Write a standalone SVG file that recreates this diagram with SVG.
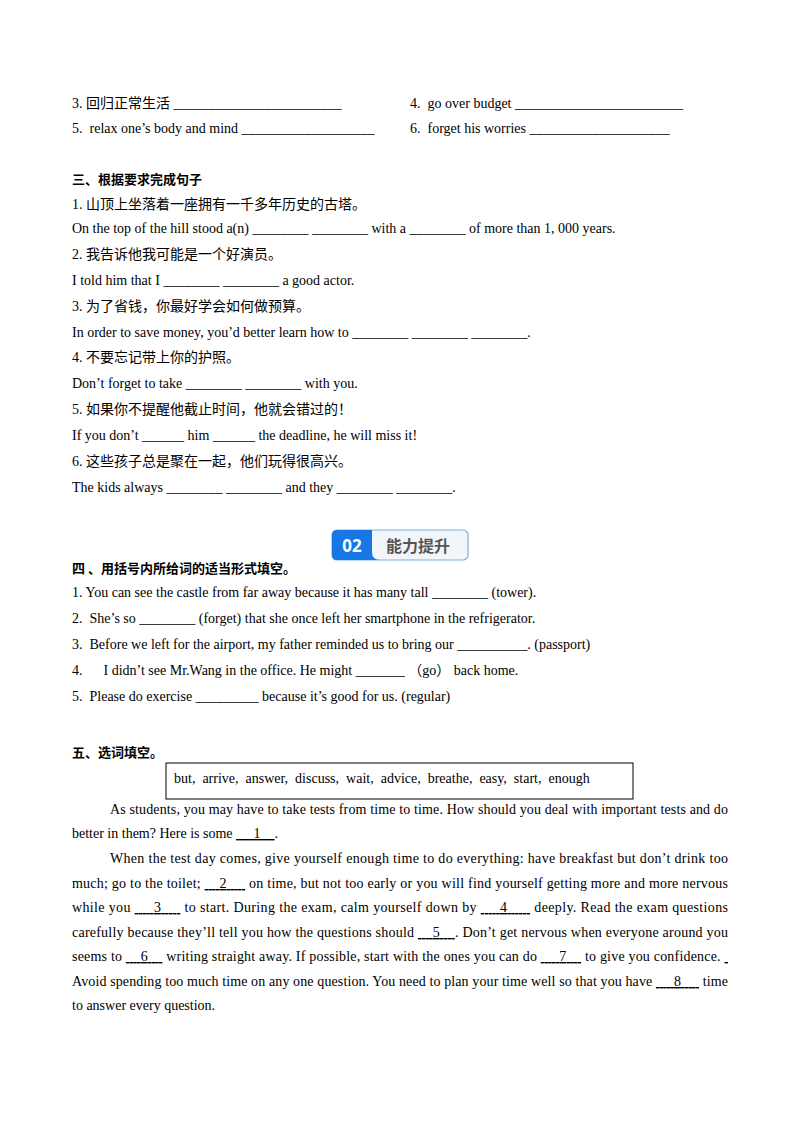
<svg xmlns="http://www.w3.org/2000/svg" width="800" height="1132" viewBox="0 0 800 1132" xml:space="preserve">
<style>
text{font-family:"Liberation Serif","Noto Sans CJK SC",serif;font-size:14px;fill:#000;white-space:pre}
.b{font-weight:bold;font-family:"Noto Sans CJK SC",sans-serif;font-size:13px}
.u{text-decoration:underline}
</style>
<rect width="800" height="1132" fill="#fff"/>
<text x="72" y="108">3. 回归正常生活 ________________________</text>
<text x="410" y="108">4.  go over budget ________________________</text>
<text x="72" y="133">5.  relax one’s body and mind ___________________</text>
<text x="410" y="133">6.  forget his worries ____________________</text>
<text class="b" x="72" y="184">三、根据要求完成句子</text>
<text x="72" y="209">1. 山顶上坐落着一座拥有一千多年历史的古塔。</text>
<text x="72" y="233">On the top of the hill stood a(n) ________ ________ with a ________ of more than 1, 000 years.</text>
<text x="72" y="259">2. 我告诉他我可能是一个好演员。</text>
<text x="72" y="285">I told him that I ________ ________ a good actor.</text>
<text x="72" y="311">3. 为了省钱，你最好学会如何做预算。</text>
<text x="72" y="337">In order to save money, you’d better learn how to ________ ________ ________.</text>
<text x="72" y="362">4. 不要忘记带上你的护照。</text>
<text x="72" y="388">Don’t forget to take ________ ________ with you.</text>
<text x="72" y="414">5. 如果你不提醒他截止时间，他就会错过的！</text>
<text x="72" y="440">If you don’t ______ him ______ the deadline, he will miss it!</text>
<text x="72" y="466">6. 这些孩子总是聚在一起，他们玩得很高兴。</text>
<text x="72" y="492">The kids always ________ ________ and they ________ ________.</text>
<g id="badge">
<rect x="332" y="530" width="136" height="30" rx="5" fill="#f2f6fb" stroke="#7aaee8" stroke-width="1.2"/>
<path d="M337 530 H372 V552 Q372 560 380 560 H337 Q332 560 332 555 V535 Q332 530 337 530 Z" fill="#1677e5"/>
<text x="352" y="552" text-anchor="middle" style="font-family:'Noto Sans',sans-serif;font-weight:bold;font-size:17px;fill:#fff">02</text>
<text x="418" y="552" text-anchor="middle" style="font-family:'Noto Sans CJK SC',sans-serif;font-weight:bold;font-size:16px;fill:#555">能力提升</text>
</g>
<text class="b" x="72" y="573">四 、用括号内所给词的适当形式填空。</text>
<text x="72" y="597">1. You can see the castle from far away because it has many tall ________ (tower).</text>
<text x="72" y="623">2.  She’s so ________ (forget) that she once left her smartphone in the refrigerator.</text>
<text x="72" y="649">3.  Before we left for the airport, my father reminded us to bring our __________. (passport)</text>
<text x="72" y="675">4.      I didn’t see Mr.Wang in the office. He might _______ （go） back home.</text>
<text x="72" y="701">5.  Please do exercise _________ because it’s good for us. (regular)</text>
<text class="b" x="72" y="757">五、选词填空。</text>
<rect x="166" y="763" width="467" height="36" fill="none" stroke="#000" stroke-width="1"/>
<text x="174" y="783">but,  arrive,  answer,  discuss,  wait,  advice,  breathe,  easy,  start,  enough</text>
<text x="110" y="814" textLength="618" lengthAdjust="spacing">As students, you may have to take tests from time to time. How should you deal with important tests and do</text>
<text x="72" y="838">better in them? Here is some <tspan class="u">     1    </tspan>.</text>
<text x="110" y="863" textLength="618" lengthAdjust="spacing">When the test day comes, give yourself enough time to do everything: have breakfast but don’t drink too</text>
<text x="72" y="888" textLength="656" lengthAdjust="spacing">much; go to the toilet; <tspan class="u">    2     </tspan> on time, but not too early or you will find yourself getting more and more nervous</text>
<text x="72" y="912" textLength="656" lengthAdjust="spacing">while you <tspan class="u">     3     </tspan> to start. During the exam, calm yourself down by <tspan class="u">     4      </tspan> deeply. Read the exam questions</text>
<text x="72" y="937" textLength="656" lengthAdjust="spacing">carefully because they’ll tell you how the questions should <tspan class="u">    5    </tspan>. Don’t get nervous when everyone around you</text>
<text x="72" y="961" textLength="656" lengthAdjust="spacing">seems to <tspan class="u">    6    </tspan> writing straight away. If possible, start with the ones you can do <tspan class="u">     7    </tspan> to give you confidence. <tspan class="u"> </tspan></text>
<text x="72" y="986" textLength="656" lengthAdjust="spacing">Avoid spending too much time on any one question. You need to plan your time well so that you have <tspan class="u">     8     </tspan> time</text>
<text x="72" y="1010">to answer every question.</text>
</svg>
